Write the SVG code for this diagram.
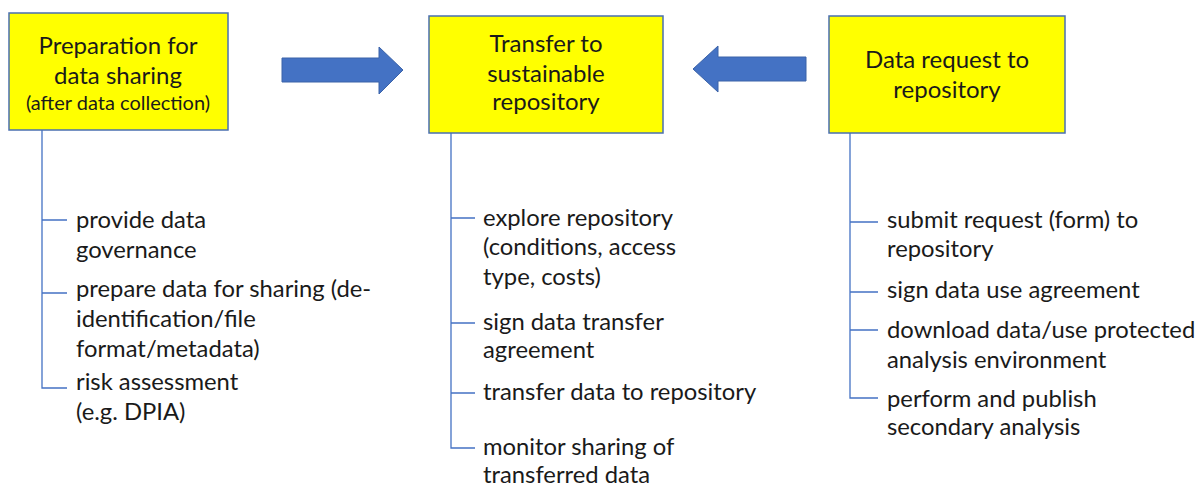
<svg xmlns="http://www.w3.org/2000/svg" width="1200" height="486" viewBox="0 0 1200 486">
<style>
.box{fill:#FFFF00;stroke:#4A6FB0;stroke-width:1.5}
.ttl{font-family:Lato,"Open Sans","Liberation Sans",sans-serif;font-size:24px;fill:#1a1a1a;text-anchor:middle}
.sm{font-size:20px}
.item{font-family:Lato,"Open Sans","Liberation Sans",sans-serif;font-size:23.8px;fill:#1a1a1a}
.ln{stroke:#4472C4;stroke-width:1.3;fill:none}
.arr{fill:#4472C4;stroke:#3A62A8;stroke-width:1}
</style>
<rect width="1200" height="486" fill="#fff"/>
<g id="connectors">
<path class="arr" d="M282,58 H379 V47 L403,70 L379,94 V82 H282 Z"/>
<path class="arr" d="M806,57 H718 V46 L693,69 L718,92 V81 H806 Z"/>
<path class="ln" d="M42,130 V388 H67 M42,220 H67 M42,293 H67"/>
<path class="ln" d="M451,133 V448 H475 M451,218 H475 M451,323 H475 M451,393 H475"/>
<path class="ln" d="M850,133 V398 H878 M850,222 H878 M850,292 H878 M850,330 H878"/>
</g>
<g id="node-prep">
<rect class="box" x="9" y="13" width="219" height="117"/>
<text class="ttl" x="118" y="54">Preparation for</text>
<text class="ttl" x="118" y="84">data sharing</text>
<text class="ttl sm" x="118" y="110">(after data collection)</text>
</g>
<g id="node-transfer">
<rect class="box" x="429" y="16" width="234" height="117"/>
<text class="ttl" x="546" y="52">Transfer to</text>
<text class="ttl" x="546" y="82">sustainable</text>
<text class="ttl" x="546" y="110">repository</text>
</g>
<g id="node-request">
<rect class="box" x="829" y="16" width="236" height="117"/>
<text class="ttl" x="947" y="68">Data request to</text>
<text class="ttl" x="947" y="98">repository</text>
</g>
<g id="items-prep">
<text class="item" x="76" y="228">provide data</text>
<text class="item" x="76" y="258">governance</text>
<text class="item" x="76" y="297">prepare data for sharing (de-</text>
<text class="item" x="76" y="327">identification/file</text>
<text class="item" x="76" y="357">format/metadata)</text>
<text class="item" x="76" y="390">risk assessment</text>
<text class="item" x="76" y="420">(e.g. DPIA)</text>
</g>
<g id="items-transfer">
<text class="item" x="483" y="226">explore repository</text>
<text class="item" x="483" y="255">(conditions, access</text>
<text class="item" x="483" y="285">type, costs)</text>
<text class="item" x="483" y="330">sign data transfer</text>
<text class="item" x="483" y="358">agreement</text>
<text class="item" x="483" y="400">transfer data to repository</text>
<text class="item" x="483" y="455">monitor sharing of</text>
<text class="item" x="483" y="483">transferred data</text>
</g>
<g id="items-request">
<text class="item" x="887" y="228">submit request (form) to</text>
<text class="item" x="887" y="257">repository</text>
<text class="item" x="887" y="298">sign data use agreement</text>
<text class="item" x="887" y="338">download data/use protected</text>
<text class="item" x="887" y="368">analysis environment</text>
<text class="item" x="887" y="407">perform and publish</text>
<text class="item" x="887" y="435">secondary analysis</text>
</g>
</svg>
